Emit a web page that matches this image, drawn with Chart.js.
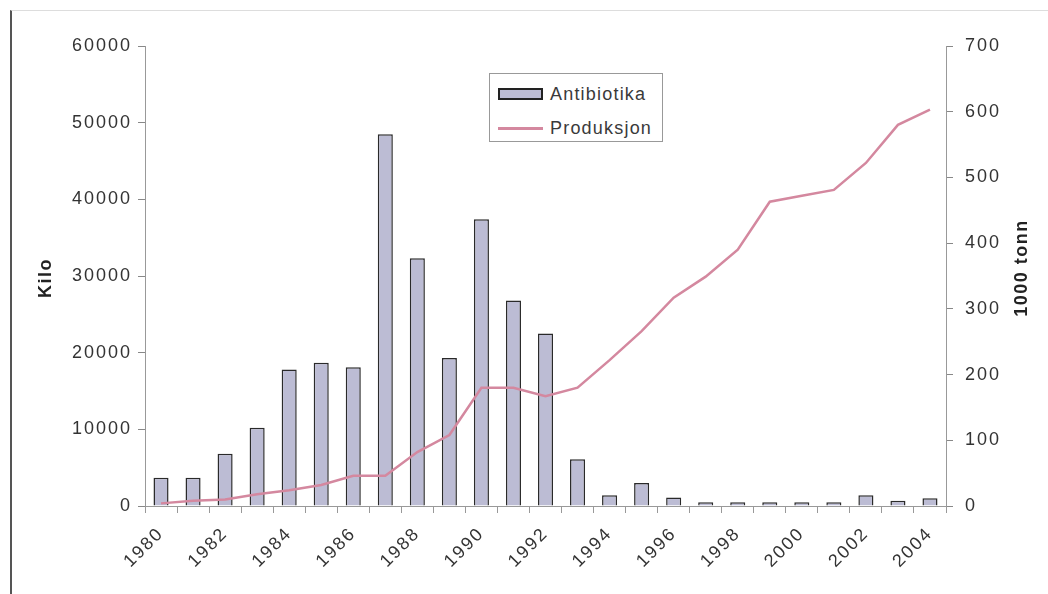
<!DOCTYPE html>
<html>
<head>
<meta charset="utf-8">
<script src="https://cdn.jsdelivr.net/npm/chart.js@4/dist/chart.umd.min.js"></script>
<style>
body { margin: 0; background: #fff; }
#wrap { position: relative; width: 1048px; height: 594px; font-family: "Liberation Sans", Arial, sans-serif; }
#frame { position: absolute; left: 10px; top: 10px; right: 0; bottom: 0; border-left: 2px solid #555; border-top: 1px solid #ddd; }
#legend { position: absolute; left: 489px; top: 73px; width: 174px; height: 69px; border: 1px solid #999; background: #fff; box-sizing: border-box; }
.item { position: absolute; left: 8px; height: 20px; font-size: 18px; letter-spacing: 1.2px; color: #3a3a3a; line-height: 20px; }
.item span.sw { position: absolute; left: 0; width: 45px; box-sizing: border-box; }
.item span.tx { position: absolute; left: 52px; white-space: nowrap; }
</style>
</head>
<body>
<div id="wrap">
  <div id="frame"></div>
  <canvas id="myChart" width="1048" height="594"></canvas>
  <div id="legend"></div>
</div>
<script>
// data
const years = ['1980','1981','1982','1983','1984','1985','1986','1987','1988','1989','1990','1991','1992',
  '1993','1994','1995','1996','1997','1998','1999','2000','2001','2002','2003','2004']
const antibiotika = [3700, 3700, 6800, 10200, 17800, 18700, 18100, 48500, 32300, 19300, 37400, 26800, 22500,
  6100, 1400, 3000, 1100, 500, 500, 500, 500, 500, 1400, 700, 1000]
const produksjon = [4, 8, 10, 18, 24, 32, 46, 46, 82, 108, 180, 180, 167,
  180, 222, 266, 317, 349, 390, 463, 472, 481, 522, 580, 603]
const kiloTicks = [0, 10000, 20000, 30000, 40000, 50000, 60000]
const tonnTicks = [0, 100, 200, 300, 400, 500, 600, 700]

const barColor = '#bcbcd4'
const lineColor = '#d4889f'
const tickFont = { family: '"Liberation Sans", Arial, sans-serif', size: 18 }

// letter spacing so the tick text gets the wide look of the original
const spacing = {
    id: 'spacing',
    beforeLayout(chart) { chart.ctx.letterSpacing = '2px' }
}

// axis titles read bottom to top on both sides
const axisTitles = {
    id: 'axisTitles',
    afterDraw(chart) {
        const ctx = chart.ctx
        const draw = (text, x, y) => {
            ctx.save()
            ctx.font = 'bold 18px "Liberation Sans", Arial, sans-serif'
            ctx.letterSpacing = '1.5px'
            ctx.fillStyle = '#222'
            ctx.textAlign = 'center'
            ctx.textBaseline = 'middle'
            ctx.translate(x, y)
            ctx.rotate(-Math.PI / 2)
            ctx.fillText(text, 0, 0)
            ctx.restore()
        }
        draw('Kilo', 46, 278)
        draw('1000 tonn', 1022, 268)
    }
}

let myChart = document.querySelector('#myChart').getContext('2d')
let chart = new Chart(myChart, {
    data: {
        labels: years,
        datasets: [{
            type: 'line',
            label: 'Produksjon',
            data: produksjon,
            yAxisID: 'y2',
            borderColor: lineColor,
            borderWidth: 2.5,
            pointRadius: 0,
            tension: 0,
            order: 0
        }, {
            type: 'bar',
            label: 'Antibiotika',
            data: antibiotika,
            yAxisID: 'y',
            backgroundColor: barColor,
            borderColor: '#2a2a2a',
            borderWidth: 1.5,
            categoryPercentage: 1,
            barPercentage: 0.47,
            order: 1
        }]
    },
    options: {
        responsive: false,
        animation: false,
        layout: { padding: { left: 10, right: 0, top: 46, bottom: 0 } },
        plugins: { legend: { display: false }, tooltip: { enabled: false } },
        scales: {
            x: {
                offset: true,
                afterFit(scale) { scale.height = 88 },
                grid: { offset: true, drawOnChartArea: false, tickLength: 7, color: '#999' },
                border: { color: '#999' },
                ticks: {
                    autoSkip: false,
                    minRotation: 45,
                    maxRotation: 45,
                    padding: 10,
                    color: '#333',
                    font: tickFont,
                    callback(v, i) { return i % 2 === 0 ? years[i] : '' }
                }
            },
            y: {
                position: 'left',
                min: 0,
                max: 60000,
                afterFit(scale) { scale.width = 135 },
                afterBuildTicks(scale) { scale.ticks = kiloTicks.map(v => ({ value: v })) },
                grid: { drawOnChartArea: false, tickLength: 7, color: '#888' },
                border: { color: '#999' },
                ticks: { padding: 6, color: '#333', font: tickFont, callback: v => String(v) }
            },
            y2: {
                position: 'right',
                min: 0,
                max: 700,
                afterFit(scale) { scale.width = 102 },
                afterBuildTicks(scale) { scale.ticks = tonnTicks.map(v => ({ value: v })) },
                grid: { drawOnChartArea: false, tickLength: 7, color: '#888' },
                border: { color: '#999' },
                ticks: { padding: 12, color: '#333', font: tickFont, callback: v => String(v) }
            }
        }
    },
    plugins: [spacing, axisTitles]
})

// legend box built from the datasets
const legend = document.querySelector('#legend')
const bars = chart.data.datasets[1]
const line = chart.data.datasets[0]
legend.innerHTML =
    '<div class="item" style="top:10px"><span class="sw" style="top:4px;height:12px;background:' + bars.backgroundColor +
    ';border:2px solid #222"></span><span class="tx">' + bars.label + '</span></div>' +
    '<div class="item" style="top:44px"><span class="sw" style="top:9px;height:3px;background:' + line.borderColor +
    '"></span><span class="tx">' + line.label + '</span></div>'
</script>
</body>
</html>
